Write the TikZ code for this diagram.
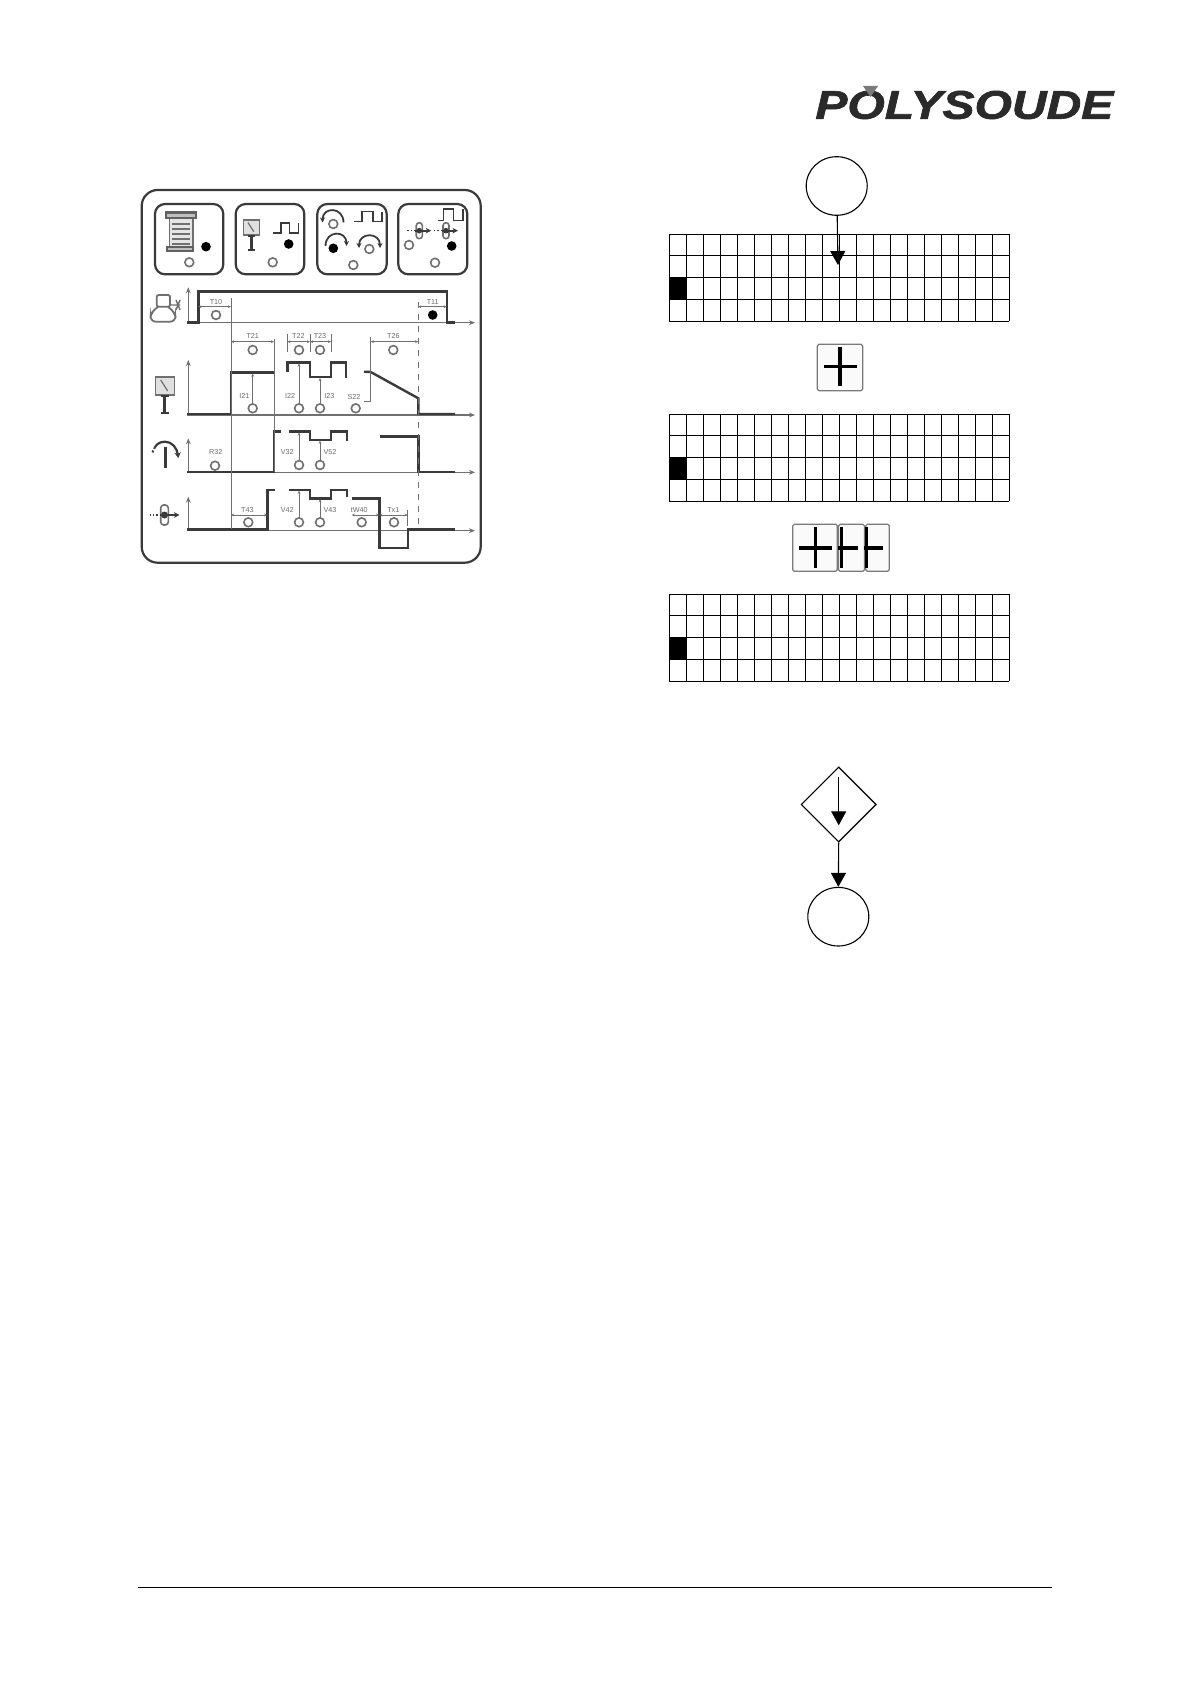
\documentclass[tikz,border=0pt]{standalone}
\usepackage{graphicx}
\usepackage{fontspec}
\setmainfont{Liberation Sans}
\newfontfamily\logofont[FakeBold=1.6]{Liberation Sans Bold Italic}
\usetikzlibrary{arrows.meta, positioning, shapes.geometric}
\definecolor{panelink}{HTML}{3A3A3A}
\definecolor{thinink}{HTML}{707070}
\definecolor{tagink}{HTML}{6A6A6A}
\definecolor{logoink}{HTML}{2A2A2A}
\definecolor{logotip}{HTML}{7A7A7A}
\definecolor{keyedge}{HTML}{7A7A7A}

\tikzset{
    panelbox/.style={draw=panelink, line width=1.1pt, rounded corners=5pt},
    signal/.style={draw=panelink, line width=1.2pt, line join=miter},
    thinline/.style={draw=thinink, line width=0.5pt},
    axisline/.style={draw=thinink, line width=0.55pt, -{Stealth[length=3pt,width=2.4pt]}},
    dimline/.style={draw=thinink, line width=0.4pt, {Stealth[length=1.6pt,width=1.4pt]}-{Stealth[length=1.6pt,width=1.4pt]}},
    upline/.style={draw=thinink, line width=0.45pt, -{Stealth[length=1.6pt,width=1.4pt]}},
    ledoff/.style={circle, draw=thinink, line width=0.8pt, fill=white, minimum size=4.4pt, inner sep=0pt},
    ledon/.style={circle, fill=black, minimum size=4.8pt, inner sep=0pt},
    tag/.style={font=\fontsize{3.6}{4}\selectfont, text=tagink, inner sep=0pt},
    keycap/.style={draw=keyedge, line width=0.6pt, fill=black!2, rounded corners=0.8pt, inner sep=0pt},
    keymark/.style={draw=black, line width=1.6pt},
    flowcircle/.style={ellipse, draw=black, line width=0.55pt, minimum width=30.5pt, minimum height=29.3pt, inner sep=0pt},
    flowarrow/.style={draw=black, line width=0.55pt, -{Stealth[length=7pt,width=7.5pt,inset=0pt]}},
    pics/gaugeicon/.style={code={
        \draw[thinink, line width=0.7pt, fill=black!12] (-9.5,-9) rectangle (9.5,9);
        \draw[thinink, line width=0.6pt] (-4,-6) -- (3,5);
        \draw[panelink, line width=1.4pt] (0,9) -- (0,27);
        \draw[panelink, line width=1.1pt] (-4,10) -- (4,10) (-4,27) -- (4,27);
    }},
    pics/archump/.style={code={
        \draw[panelink, line width=0.9pt, #1] (-10.5,0) .. controls (-10.5,-16) and (10.5,-16) .. (10.5,0);
    }},
    pics/rollericon/.style={code={
        \draw[thinink, line width=0.8pt, rounded corners=1.5pt] (-3.8,-10) rectangle (3.8,10);
        \draw[panelink, densely dotted, line width=0.7pt] (-15,0) -- (-5,0);
        \draw[panelink, line width=1.1pt, -{Stealth[length=2.8pt,width=2.8pt]}] (-5,0) -- (15,0);
        \fill[panelink] (0,0) circle (3.5);
    }},
}

\begin{document}
\begin{tikzpicture}[x=0.5pt, y=-0.5pt]
    \useasboundingbox (0,0) rectangle (1190,1684);

    % Logo
    \node[anchor=west, inner sep=0pt, text=logoink, font=\fontsize{20}{21}\logofont] (logo) at (815,105)
        {\scalebox{1.2}[1]{POLYSOUDE}};
    \fill[logotip] (863,86) -- (878,86) -- (870.5,97) -- cycle;

    % Outer panel
    \draw[panelbox, rounded corners=8pt] (141.7,190) rectangle (480.7,562.7);

    % Top row of boxes
    \draw[panelbox] (155,204) rectangle (223.3,274.3);
    \draw[panelbox] (235.7,204) rectangle (304.3,274.3);
    \draw[panelbox] (317.3,204) rectangle (386.7,274.3);
    \draw[panelbox] (398.3,204) rectangle (467.3,274.3);

    % Box 1: document
    \draw[thinink, line width=0.8pt, fill=black!10] (169.3,218) rectangle (192.7,250);
    \draw[panelink!80, line width=1.2pt, fill=black!25] (166,212.7) rectangle (196,218);
    \draw[panelink!80, line width=1pt, fill=black!25] (167,247) rectangle (192.7,250.7);
    \foreach \docy in {224,229,234,239,244}
        \draw[thinink, line width=0.6pt] (172,\docy) -- (190,\docy);

    % Box 2: gauge
    \pic[scale=0.84] at (251.3,227.5) {gaugeicon};
    \draw[signal, line width=0.8pt] (273.3,233.3) -- (280.7,233.3) -- (280.7,223.3) -- (289.3,223.3) -- (289.3,233.3) -- (298.3,233.3) -- (298.3,223.3);

    % Box 3: arcs
    \pic at (333,222.5) {archump={{Stealth[length=2.5pt,width=2.5pt]}-}};
    \pic at (336,246) {archump={-{Stealth[length=2.5pt,width=2.5pt]}}};
    \pic at (369.5,248) {archump={{Stealth[length=2.5pt,width=2.5pt]}-{Stealth[length=2.5pt,width=2.5pt]}}};
    \draw[signal, line width=0.8pt] (354.3,221.7) -- (362,221.7) -- (362,211.7) -- (373,211.7) -- (373,221.7) -- (381.7,221.7) -- (381.7,211.7);

    % Box 4: rollers
    \pic[scale=0.8] at (419.3,230.7) {rollericon};
    \pic[scale=0.8] at (446,230.7) {rollericon};
    \draw[signal, line width=0.8pt] (437.7,220.7) -- (443.3,220.7) -- (443.3,209.3) -- (453.3,209.3) -- (453.3,220.7) -- (462.7,220.7) -- (462.7,209.3);

    % Left icons
    \draw[thinink, line width=0.9pt, rounded corners=1pt] (156.7,295) rectangle (170,306.7);
    \draw[thinink, line width=0.9pt, rounded corners=3pt] (158,307) -- (151,312) -- (150,321.7) -- (176,321.7) -- (175,312) -- (168,307);
    \draw[thinink, line width=0.7pt] (170,305) -- (180,305) (176,300) -- (180,310) (180,300) -- (176,310);
    \pic at (164.7,386) {gaugeicon};
    \draw[panelink, line width=1.5pt] (165,446.7) -- (165,468);
    \draw[panelink, line width=1.1pt, -{Stealth[length=2.8pt,width=3.2pt]}] (165,441.7) .. controls (172,441.7) and (177,448) .. (178.3,458);
    \draw[panelink, line width=1.1pt] (165,441.7) .. controls (160,441.7) and (157,444) .. (155,447);
    \draw[panelink, line width=1pt, densely dotted] (155,447) -- (151.7,454);
    \pic at (164.5,515) {rollericon};

    % Axes
    \draw[axisline] (187.3,322.7) -- (475,322.7);
    \draw[axisline] (187.3,415) -- (475,415);
    \draw[axisline] (187.3,472.3) -- (475,472.3);
    \draw[axisline] (187.3,530.7) -- (475,530.7);
    \draw[axisline] (188.3,322.7) -- (188.3,287.3);
    \draw[axisline] (188.3,415) -- (188.3,360);
    \draw[axisline] (188.3,472.3) -- (188.3,438.3);
    \draw[axisline] (188.3,530.7) -- (188.3,496.7);

    % Signal traces
    \draw[signal] (187.3,322.7) -- (198.3,322.7) -- (198.3,291.7) -- (446.7,291.7) -- (446.7,322.7) -- (455,322.7);
    \draw[signal] (187.3,414) -- (231,414) -- (231,372.7) -- (274,372.7);
    \draw[signal] (287.3,372) -- (287.3,362.7) -- (310,362.7) -- (310,377.3) -- (331,377.3) -- (331,362.7) -- (346,362.7) -- (346,378);
    \draw[signal] (364,371.7) -- (370.7,372) -- (418.3,398.3) -- (418.3,414) -- (455,414);
    \draw[signal] (187.3,471.7) -- (274,471.7) -- (274,431.7) -- (280.7,431.7);
    \draw[signal] (289.3,431.7) -- (310,431.7) -- (310,440) -- (331,440) -- (331,431.7) -- (346.7,431.7) -- (346.7,440.7);
    \draw[signal] (380,436.7) -- (418.3,436.7) -- (418.3,471.7) -- (455,471.7);
    \draw[signal] (187.3,529.3) -- (267.3,529.3) -- (267.3,490) -- (275,490);
    \draw[signal] (289.3,490) -- (310,490) -- (310,498.3) -- (331,498.3) -- (331,490) -- (346.7,490) -- (346.7,497.3);
    \draw[signal] (351.7,498.3) -- (379.3,498.3) -- (379.3,547.7) -- (407.7,547.7) -- (407.7,529.3) -- (455,529.3);

    % Guide lines
    \draw[thinline] (231,298.3) -- (231,529.3);
    \draw[thinline] (274,339) -- (274,471.7);
    \draw[thinline, dashed] (418.3,302) -- (418.3,526.7);
    \draw[thinline] (287.3,334) -- (287.3,352);
    \draw[thinline] (310,334) -- (310,352);
    \draw[thinline] (331,334) -- (331,352);
    \draw[thinline] (370.7,337) -- (370.7,401.7) -- (364,401.7);
    \draw[thinline] (407.7,510) -- (407.7,526);

    % Time spans
    \draw[dimline] (198.3,306.7) -- (231,306.7);
    \draw[dimline] (418.3,306.7) -- (446.7,306.7);
    \draw[dimline] (231,341.7) -- (274,341.7);
    \draw[dimline] (287.3,341.7) -- (310,341.7);
    \draw[dimline] (310,341.7) -- (331,341.7);
    \draw[dimline] (370.7,341.7) -- (418.3,341.7);
    \draw[dimline] (231,515) -- (267.3,515);
    \draw[dimline] (351.7,515) -- (379.3,515);
    \draw[dimline] (379.3,515) -- (407.7,515);

    % Level pointers
    \draw[upline] (252.7,406) -- (252.7,373.5);
    \draw[upline] (299,406) -- (299,363.5);
    \draw[upline] (320,406) -- (320,378);
    \draw[upline] (299,462.5) -- (299,432.5);
    \draw[upline] (320,462.5) -- (320,440.7);
    \draw[upline] (299,520) -- (299,490.7);
    \draw[upline] (320,520) -- (320,499);

    % Labels
    \foreach \tagx/\tagy/\tagtxt in {216/302.3/T10, 432.7/302.3/T11, 252.7/335.7/T21, 298.3/335.7/T22, 320/335.7/T23, 393.3/335.7/T26,
        244.3/396/I21, 290/396/I22, 329.3/396/I23, 354/397/S22, 215.7/452.3/R32, 287.3/452.3/V32, 330/452.3/V52,
        247.3/510/T43, 287.3/510/V42, 330/510/V43, 359.3/510/tW40, 393.3/510/Tx1}
        \node[tag] (tag-\tagtxt) at (\tagx,\tagy) {\tagtxt};

    % Indicators, not lit
    \foreach \ledx/\ledy in {189.3/262.3, 272.7/262.3, 333.3/224, 369.3/249, 353.3/265, 409/245, 435/262.7,
        216/315, 252.7/350, 299/350, 320/350, 393.3/350,
        252.7/408.3, 299/408.3, 320/408.3, 355.7/408.3,
        215/465.7, 299/465, 320/465,
        248.3/522.3, 299/522.3, 320/522.3, 361.7/522.3, 394/522.3}
        \node[ledoff] (led-\ledx-\ledy) at (\ledx,\ledy) {};

    % Indicators, lit
    \foreach \ledx/\ledy in {206/246.7, 288.7/244, 333.3/248.3, 451.7/246, 432.7/315}
        \node[ledon] (lit-\ledx-\ledy) at (\ledx,\ledy) {};

    % Display grids
    \foreach \gridy in {234.3, 414.3, 594.3} {
        \fill[black] (669.3,\gridy+43) rectangle (686.3,\gridy+65);
        \foreach \colx in {0,...,20}
            \draw[black, line width=0.5pt] (669.3+\colx*17,\gridy) -- (669.3+\colx*17,\gridy+87);
        \foreach \rowy in {0,21,43,65,87}
            \draw[black, line width=0.5pt] (669.3,\gridy+\rowy) -- (1009.3,\gridy+\rowy);
    }

    % Flow nodes
    \node[flowcircle] (entry) at (836.7,186) {};
    \coordinate (entrytip) at (838,265);
    \draw[flowarrow] (entry) -- (entrytip);

    \node[diamond, draw=black, line width=0.55pt, minimum size=37.5pt, inner sep=0pt, aspect=1] (decision) at (838.7,804.5) {};
    \coordinate (decisiontop) at (838.7,777.3);
    \coordinate (decisiontip) at (838.7,825.3);
    \draw[flowarrow] (decisiontop) -- (decisiontip);
    \node[flowcircle] (exit) at (838.3,916.7) {};
    \draw[flowarrow] (decision.south) -- (exit.north);

    % Single key
    \node[keycap, minimum width=22.7pt, minimum height=23.2pt] (keyone) at (840,367.5) {};
    \draw[keymark] (824,366.7) -- (857,366.7) (840,347) -- (840,386);

    % Row of keys
    \node[keycap, minimum width=22.3pt, minimum height=23.5pt] (keya) at (815,547.8) {};
    \node[keycap, minimum width=13pt, minimum height=23.5pt, right=0pt of keya] (keyb) {};
    \node[keycap, minimum width=11.8pt, minimum height=23.5pt, right=0pt of keyb] (keyc) {};
    \draw[keymark] (799,548) -- (832,548) (815.7,527) -- (815.7,568);
    \draw[keymark] (837.7,548) -- (858.3,548) (841.3,527) -- (841.3,568);
    \draw[keymark] (864,548) -- (883,548) (866.3,527) -- (866.3,568);

    % Footer rule
    \coordinate (footleft) at (138,1587.4);
    \coordinate (footright) at (1052,1587.4);
    \draw[black, line width=0.6pt] (footleft) -- (footright);
\end{tikzpicture}
\end{document}
